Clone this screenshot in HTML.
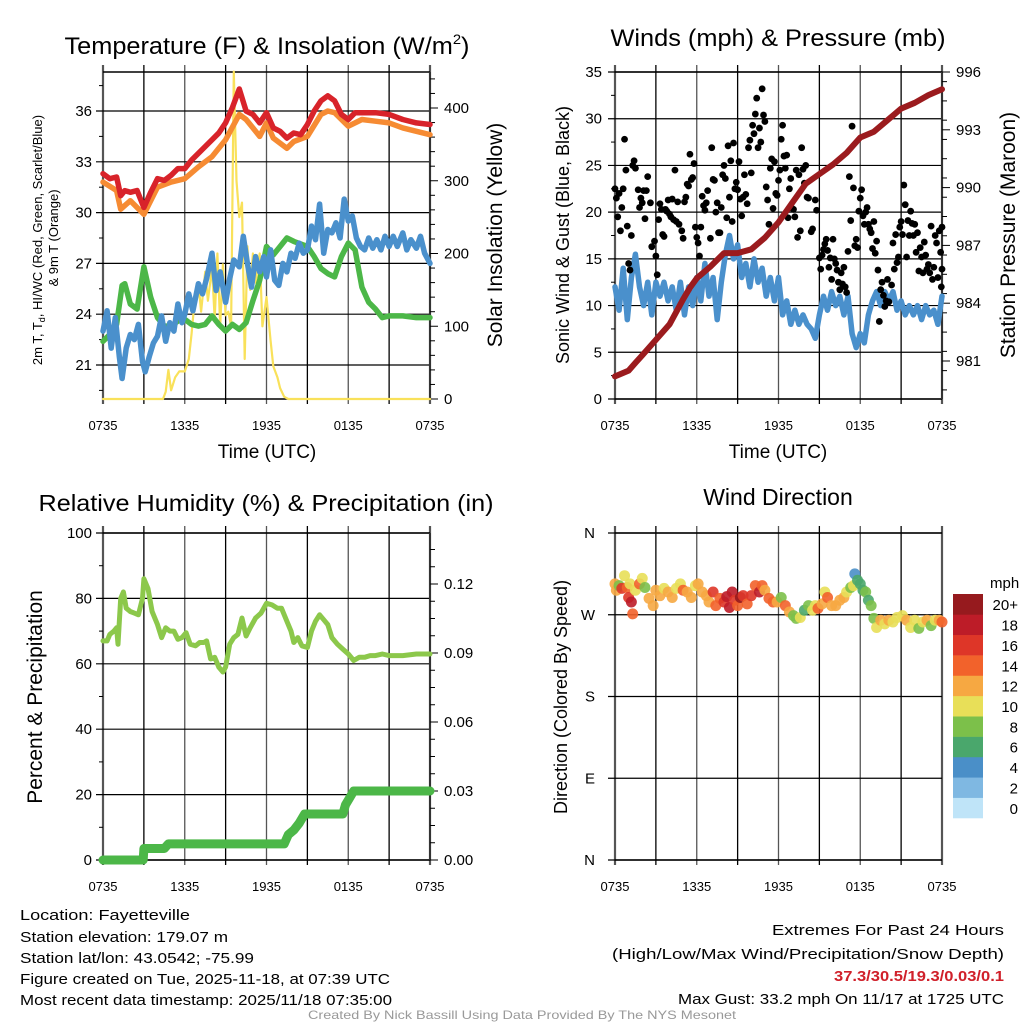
<!DOCTYPE html>
<html><head><meta charset="utf-8"><style>
html,body{margin:0;padding:0;background:#fff;}
svg{display:block;font-family:"Liberation Sans",sans-serif;}
</style></head><body>
<svg id="fig" width="1024" height="1024" viewBox="0 0 1024 1024" xmlns="http://www.w3.org/2000/svg">
<rect width="1024" height="1024" fill="#fff"/>
<g id="layer"></g>
<text x="267" y="54" font-size="24" text-anchor="middle" textLength="405" lengthAdjust="spacingAndGlyphs">Temperature (F) &amp; Insolation (W/m<tspan font-size="14" dy="-10">2</tspan><tspan dy="10">)</tspan></text>
<text x="778" y="46" font-size="24" text-anchor="middle" textLength="335" lengthAdjust="spacingAndGlyphs">Winds (mph) &amp; Pressure (mb)</text>
<text x="266" y="511" font-size="23" text-anchor="middle" textLength="455" lengthAdjust="spacingAndGlyphs">Relative Humidity (%) &amp; Precipitation (in)</text>
<text x="778" y="505" font-size="23" text-anchor="middle">Wind Direction</text>
<text transform="translate(42,240) rotate(-90)" font-size="13" text-anchor="middle">2m T, T<tspan font-size="9" dy="3">d</tspan><tspan dy="-3">, HI/WC (Red, Green, Scarlet/Blue)</tspan></text>
<text transform="translate(58,238) rotate(-90)" font-size="13" text-anchor="middle">&amp; 9m T (Orange)</text>
<text transform="translate(502,235) rotate(-90)" font-size="21" text-anchor="middle">Solar Insolation (Yellow)</text>
<text transform="translate(569,235) rotate(-90)" font-size="18" text-anchor="middle">Sonic Wind &amp; Gust (Blue, Black)</text>
<text transform="translate(1015,235) rotate(-90)" font-size="21" text-anchor="middle">Station Pressure (Maroon)</text>
<text transform="translate(42,697) rotate(-90)" font-size="21" text-anchor="middle">Percent &amp; Precipitation</text>
<text transform="translate(567,697) rotate(-90)" font-size="18" text-anchor="middle">Direction (Colored By Speed)</text>
<text x="267" y="458" font-size="19" text-anchor="middle">Time (UTC)</text>
<text x="778" y="458" font-size="19" text-anchor="middle">Time (UTC)</text>
<g font-size="15">
<text x="20" y="920" textLength="170" lengthAdjust="spacingAndGlyphs">Location: Fayetteville</text>
<text x="20" y="942" textLength="208" lengthAdjust="spacingAndGlyphs">Station elevation: 179.07 m</text>
<text x="20" y="963" textLength="234" lengthAdjust="spacingAndGlyphs">Station lat/lon: 43.0542; -75.99</text>
<text x="20" y="984" textLength="370" lengthAdjust="spacingAndGlyphs">Figure created on Tue, 2025-11-18, at 07:39 UTC</text>
<text x="20" y="1005" textLength="372" lengthAdjust="spacingAndGlyphs">Most recent data timestamp: 2025/11/18 07:35:00</text>
</g>
<g font-size="15" text-anchor="end">
<text x="1004" y="935" textLength="232" lengthAdjust="spacingAndGlyphs">Extremes For Past 24 Hours</text>
<text x="1004" y="959" textLength="392" lengthAdjust="spacingAndGlyphs">(High/Low/Max Wind/Precipitation/Snow Depth)</text>
<text x="1004" y="981" fill="#d0202a" font-weight="bold" textLength="170" lengthAdjust="spacingAndGlyphs">37.3/30.5/19.3/0.03/0.1</text>
<text x="1004" y="1004" textLength="326" lengthAdjust="spacingAndGlyphs">Max Gust: 33.2 mph On 11/17 at 1725 UTC</text>
</g>
<text x="522" y="1019" font-size="12" fill="#999" text-anchor="middle" textLength="428" lengthAdjust="spacingAndGlyphs">Created By Nick Bassill Using Data Provided By The NYS Mesonet</text>
</svg>
<script>
const xTickLabels = ["0735","1335","1935","0135","0735"];
const tempTicks = [21,24,27,30,33,36];
const solarTicks = [0,100,200,300,400];
const windTicks = [0,5,10,15,20,25,30,35];
const presTicks = [981,984,987,990,993,996];
const rhTicks = [0,20,40,60,80,100];
const precipTicks = ["0.00","0.03","0.06","0.09","0.12"];
const dirTicks = ["N","E","S","W","N"];
const speedBins = ["0","2","4","6","8","10","12","14","16","18","20+"];

const redT = [0,32.3,0.5,32.0,1,32.1,1.3,31.0,1.6,31.3,2,31.2,2.5,31.3,3,30.3,3.5,31.2,4,32.0,4.5,31.9,5,32.2,5.5,32.6,6,32.6,6.5,33.1,7,33.5,7.5,33.9,8,34.3,8.5,34.7,9,35.3,9.5,36.2,10,37.3,10.5,36.0,11,35.8,11.5,35.3,12,35.9,12.5,35.0,13,34.8,13.5,34.4,14,34.7,14.5,34.6,15,35.2,15.5,36.0,16,36.6,16.5,36.9,17,36.6,17.5,35.8,18,35.5,18.5,35.9,19,35.9,20,35.9,21,35.8,22,35.5,23,35.3,24,35.2];
const orangeT = [0,31.8,1,31.3,1.3,30.2,2,30.7,3,29.9,4,31.5,5,31.8,6,32.0,7,32.7,8,33.3,9,34.3,10,35.8,10.5,35.5,11,35.0,11.5,34.5,12,35.3,12.5,34.4,13,34.1,13.5,33.8,14,34.2,15,34.5,16,35.8,16.5,36.0,17,35.9,18,35.1,19,35.5,20,35.4,21,35.3,22,35.0,23,34.8,24,34.6];
const greenTd = [0,22.4,0.5,22.8,1,23.4,1.4,25.7,1.6,25.8,2,24.6,2.5,24.3,3,26.8,3.5,25.0,4,23.8,4.5,23.3,5,23.3,5.5,23.6,6,23.7,6.5,23.4,7,23.3,7.5,23.4,8,23.9,8.5,23.4,9,23.0,9.5,23.4,10,23.1,10.5,23.5,11,24.8,11.5,26.0,12,28.0,12.5,27.5,13,28.0,13.5,28.5,14,28.3,15,28.0,15.5,27.4,16,26.7,16.5,26.4,17,26.2,17.5,27.4,18,28.2,18.5,27.8,19,25.6,19.5,24.7,20,24.3,20.5,23.8,21,23.9,22,23.9,23,23.8,24,23.8];
const blueWC = [0,23,0.3,24.2,0.6,22,0.9,23.8,1.2,21.5,1.4,20.2,1.7,22,2,22.8,2.3,22.5,2.6,23.4,2.9,21.2,3.1,20.6,3.4,21.5,3.7,22.3,4,22.7,4.3,23.9,4.6,22.4,4.9,23.5,5.2,23.0,5.5,24.6,5.8,23.5,6,24.0,6.3,25.2,6.6,24.2,7,25.8,7.3,25.2,7.6,26.1,8,27.6,8.3,25.4,8.6,26.5,9,24.7,9.3,26.1,9.6,27.2,10,26.8,10.3,28.6,10.6,27.0,10.9,25.6,11.2,27.4,11.5,26.5,11.8,27.4,12,26.2,12.3,27.8,12.6,26.0,12.9,25.7,13.2,27.0,13.5,26.5,13.8,27.6,14.1,27.3,14.4,28.2,14.7,27.6,15,27.8,15.3,29.2,15.6,28.4,15.9,30.5,16.2,27.6,16.5,29.0,16.8,28.8,17.1,29.4,17.4,28.5,17.7,30.8,18,29.5,18.3,29.8,18.6,28.5,18.9,28.0,19.2,27.8,19.5,28.5,19.8,27.9,20.1,28.4,20.4,27.8,20.7,28.6,21,28.0,21.3,28.6,21.6,28.0,22,28.8,22.3,27.8,22.6,28.4,23,27.9,23.3,28.6,23.6,27.6,24,27.0];
const solar = [0,0,4.4,0,4.6,10,4.8,40,5.0,12,5.3,30,5.6,38,6,38,6.3,55,6.5,90,6.8,150,7,160,7.2,120,7.5,175,7.7,135,8,180,8.2,110,8.4,200,8.6,100,8.8,185,9,115,9.2,120,9.4,100,9.6,450,9.8,300,10,250,10.2,270,10.4,55,10.6,210,10.8,150,11,200,11.2,160,11.5,200,11.7,100,12,140,12.3,80,12.5,45,12.8,30,13,15,13.3,3,13.6,0,24,0];

const windSpd = [0,12,0.3,9.5,0.6,14,0.9,8.5,1.2,13,1.5,15.5,1.8,12,2.1,10,2.4,12.5,2.7,9,3,12.5,3.3,11,3.6,12.5,3.9,10.5,4.2,12,4.5,9.5,4.8,12.5,5.1,9,5.4,12,5.7,10,6,13,6.3,10.5,6.6,14.5,6.9,11,7.2,13,7.5,8.5,7.8,12.5,8.1,15.5,8.4,17.5,8.7,15,9,16.5,9.3,13,9.6,14.5,9.9,12,10.2,15,10.5,12.5,10.8,14,11.1,11,11.4,13,11.7,10.5,12,13,12.3,9,12.6,10.5,12.9,8,13.2,9.5,13.5,8,13.8,9,14.1,8,14.4,7.5,14.7,6.5,15,9,15.3,11,15.6,9.5,15.9,11.5,16.2,10,16.5,11,16.8,9,17.1,11,17.4,7,17.7,5.5,18,7,18.3,6,18.6,9,18.9,10.5,19.2,11.5,19.5,10,19.8,11.5,20.1,10.5,20.4,11.5,20.7,9.5,21,10.5,21.3,9,21.6,10,21.9,9,22.2,10,22.5,8.5,22.8,10,23.1,9,23.4,9.5,23.7,8,24,11];
const pressure = [0,980.2,1,980.5,1.5,980.9,2,981.3,3,982.1,4,982.9,5,984.2,5.5,984.8,6,985.3,7,985.9,8,986.6,9,986.6,10,986.8,11,987.4,12,988.2,13,989.2,14,990.2,15,990.7,16,991.2,17,991.8,18,992.6,19,992.9,20,993.5,21,994.1,22,994.4,23,994.8,24,995.1];
const gustTimes = [0.0,0.1,0.2,0.3,0.4,0.5,0.6,0.7,0.8,0.9,1.0,1.1,1.2,1.3,1.4,1.5,1.7,1.8,1.9,2.0,2.1,2.2,2.3,2.4,2.6,2.7,2.9,3.0,3.1,3.2,3.3,3.4,3.5,3.6,3.7,3.8,3.9,4.0,4.1,4.2,4.3,4.4,4.5,4.6,4.7,4.9,5.0,5.1,5.2,5.3,5.4,5.5,5.6,5.7,5.8,5.9,6.0,6.1,6.2,6.3,6.4,6.5,6.6,6.7,6.8,7.0,7.1,7.2,7.3,7.4,7.5,7.6,7.7,7.8,7.9,8.0,8.1,8.2,8.3,8.4,8.5,8.6,8.7,8.8,8.9,9.0,9.1,9.2,9.3,9.4,9.5,9.6,9.7,9.8,9.9,10.0,10.1,10.2,10.3,10.4,10.5,10.6,10.7,10.8,10.9,11.0,11.1,11.2,11.3,11.4,11.5,11.6,11.7,11.8,11.9,12.0,12.1,12.2,12.3,12.4,12.5,12.6,12.7,12.8,12.9,13.0,13.1,13.2,13.3,13.4,13.5,13.6,13.7,13.8,13.9,14.0,14.1,14.2,14.4,14.5,14.7,14.8,15.0,15.1,15.2,15.3,15.4,15.5,15.6,15.7,15.8,15.9,16.0,16.1,16.2,16.3,16.4,16.5,16.6,16.7,16.8,16.9,17.0,17.1,17.2,17.3,17.4,17.5,17.6,17.7,17.8,17.9,18.0,18.1,18.2,18.3,18.4,18.5,18.6,18.7,18.8,18.9,19.0,19.1,19.2,19.3,19.4,19.5,19.6,19.7,19.8,19.9,20.0,20.1,20.3,20.4,20.5,20.6,20.7,20.8,20.9,21.0,21.1,21.2,21.3,21.4,21.5,21.6,21.7,21.8,21.9,22.0,22.1,22.2,22.3,22.4,22.5,22.6,22.7,22.8,22.9,23.0,23.1,23.2,23.3,23.4,23.5,23.6,23.7,23.8,23.9,24.0,24.0,23.95];
const gustSpd = [22.5,21.5,19.5,22,18,20.5,22.5,27.8,24.5,18.5,14.5,13.8,17.5,25,25.5,24.7,22.4,20.5,21.5,21,22.3,19.3,22.3,23.8,21,16.3,16.9,15.3,13.3,19.2,20.9,20.3,17.6,17.4,20.3,20.1,21.3,19.8,19.5,21.4,19.2,24.5,19,21.1,18.7,18,17.2,21.1,21.6,23,22.8,26.2,23.5,23.7,25.2,18.4,17.3,16.7,15.3,18.4,21.7,20.7,20.2,21,22.3,17.2,26.9,23.5,23.4,20,21,17.8,17.8,20.5,24,25,23.6,19.4,27.1,21.6,25.5,19,27.4,22.5,23.2,22.4,25.4,21.4,19.6,21.6,24,21.9,20.9,26.9,27.7,24.2,29.3,28.4,30.5,32.2,26.9,29,27.5,33.2,30.4,29.7,22.7,21.3,18.7,24.7,25.7,20.4,25.4,22,21.8,23.4,24.5,27.8,29.3,26,24.7,26.1,19.4,22.5,23.6,20.4,20.3,19.5,24.5,17.3,24,18,26.9,24.6,23.1,25,21.6,21.5,17.9,18.2,21.3,20.2,15.1,13.9,15.4,16,16.6,17.1,15.9,14.1,15.1,12.8,17.1,15,14.5,13.8,12.5,11.7,13.5,12.3,14.1,12,11.4,15.8,23.8,19.1,29.2,22.6,16.4,17.1,16.2,20.1,21.5,22.4,19.6,18.7,20,20.5,18.7,18.2,17.8,16.1,19,15.6,16.9,13.8,8.3,11.7,12.5,11.1,9.9,10.5,12.8,10.4,12.2,16.7,13.9,17.6,14.6,15.2,18.4,19,17.6,22.9,20.8,15.2,19.1,17.5,20.1,18.8,17.5,18.7,15.7,17.8,13.7,16.2,15.2,13.5,16.8,15.4,13.9,14.4,13.5,18.5,12.8,14.1,17.5,16.7,13,18,15.7,13.9,18.4,12];

const rh = [0,67,0.3,67,0.5,69,0.8,70,1.0,71,1.1,66,1.3,80,1.5,82,1.7,77,2,76,2.3,75.5,2.6,75,2.9,80,3.0,86,3.3,83,3.6,76,4,72,4.3,68,4.6,71,4.9,70,5.2,70,5.5,67.5,5.8,68,6.1,69.5,6.4,66,6.8,65.5,7.1,66.5,7.4,66.5,7.6,67,7.9,61.5,8.2,62,8.5,59,8.8,57.5,9.0,59,9.3,66,9.6,68,9.9,69,10.2,74,10.5,68.5,10.8,71,11.2,74,11.6,75.5,12,78.5,12.4,78,12.8,77,13.1,77,13.5,73,13.8,70,14.0,66.5,14.3,68,14.6,65.5,15,65,15.3,70,15.6,73,15.9,75,16.2,73.5,16.5,72,16.8,68,17.2,66,17.6,64.5,18,63,18.4,61,18.8,62,19.2,62,19.6,62.5,20,62.5,20.5,63,21,62.5,22,62.5,23,63,24,63];
const precip = [0,0,2.95,0,3.0,0.005,4.5,0.005,4.8,0.007,13.3,0.007,13.6,0.011,14.0,0.013,14.4,0.016,14.8,0.02,17.6,0.02,17.8,0.024,18.1,0.027,18.4,0.03,24,0.03];

const dirTimes = [0.0,0.1,0.3,0.5,0.7,0.9,1.0,1.2,1.3,1.1,1.5,1.8,2.0,2.2,2.5,2.8,3.0,3.3,3.6,3.9,4.2,4.5,4.8,5.0,5.3,5.6,5.9,6.1,6.4,6.7,6.9,7.2,7.4,7.7,8.0,8.2,8.4,8.6,8.8,9.0,9.2,9.4,9.7,10.0,10.3,10.6,10.8,11.0,11.3,11.6,11.9,12.2,12.5,12.8,13.1,13.3,13.6,13.9,14.2,14.5,14.7,14.9,15.2,15.4,15.6,15.9,16.2,16.5,16.8,17.0,17.3,17.5,17.6,17.8,18.0,18.2,18.4,18.6,18.8,19.0,19.2,19.5,19.8,20.1,20.4,20.7,21.1,21.4,21.7,22.0,22.3,22.6,22.9,23.2,23.5,23.8,24.0];
const dirDeg = [304,297,302,299,313,300,289,284,271,304,297,304,310,300,288,280,297,291,299,295,289,299,304,297,295,289,302,304,295,291,284,295,280,288,284,290,278,295,286,280,289,291,282,291,302,295,302,297,288,284,284,289,280,273,269,266,267,275,280,275,280,277,282,295,289,280,280,286,289,295,300,302,315,308,304,297,295,286,280,266,256,264,260,264,262,267,269,264,256,264,255,262,264,258,264,264,262];
const dirSpd = [12,12,8,16,10,14,16,18,14,10,10,14,10,8,12,12,12,12,10,12,12,10,10,14,12,12,10,12,12,12,12,16,14,14,16,18,18,18,16,14,20,16,14,16,14,18,14,12,14,14,12,8,14,12,8,8,10,6,8,10,10,14,12,10,14,12,12,12,12,10,8,10,4,6,6,6,8,6,8,8,10,12,10,12,10,10,10,12,10,10,8,10,12,8,10,12,14];

const NS = "http://www.w3.org/2000/svg";
const layer = document.getElementById('layer');
function mk(tag, attrs, parent) {
  const e = document.createElementNS(NS, tag);
  for (const k in attrs) e.setAttribute(k, attrs[k]);
  (parent || layer).appendChild(e);
  return e;
}
function pairs(arr){const o=[];for(let i=0;i<arr.length;i+=2)o.push([arr[i],arr[i+1]]);return o;}
function lin(d0,d1,r0,r1){return v=>r0+(v-d0)*(r1-r0)/(d1-d0);}

const XL = 103, XR = 430, XL2 = 615, XR2 = 942;
const xA = lin(0,24,XL,XR), xB = lin(0,24,XL2,XR2);

function frame(x0,x1,y0,y1,name) {
  const g = mk('g',{});
  
  
  for (let i=0;i<=8;i++){
    const x = x0 + i*(x1-x0)/8;
    const ln = mk('line',{x1:x,x2:x,y1:y0-7,y2:y1+5,stroke:(i%2===0?'#555':'#000'),'stroke-width':(i===0||i===8)?2.2:1.3},g);
    
    
  }
  mk('line',{x1:x0,x2:x1,y1:y0,y2:y0,stroke:'#000','stroke-width':1.5},g);
  mk('line',{x1:x0,x2:x1,y1:y1,y2:y1,stroke:'#000','stroke-width':1.5},g);
  for (let i=0;i<5;i++){
    const t = mk('text',{x:x0+i*(x1-x0)/4,y:y1+31,'font-size':13,'text-anchor':'middle'},g);
    t.textContent = xTickLabels[i];
    
    
  }
  return g;
}
function hgrid(g,x0,x1,y){
  const l = mk('line',{x1:x0-7,x2:x1,y1:y,y2:y,stroke:'#000','stroke-width':1.2},g);
  
  
}
function leftLabel(g,x,y,txt,size){
  const t = mk('text',{x:x,y:y+5,'font-size':size||15,'text-anchor':'end'},g);
  t.textContent = txt;
  
  
}
function rightTick(g,x,y,txt,major){
  mk('line',{x1:x,x2:x+(major?8:5),y1:y,y2:y,stroke:'#000','stroke-width':1},g);
  if (txt!==null){
    const t = mk('text',{x:x+14,y:y+5,'font-size':15},g);
    t.textContent = txt;
    
    
  }
}
function path(g,pts,xf,yf,color,w,name){
  const d = pts.map((p,i)=>(i?'L':'M')+xf(p[0]).toFixed(1)+','+yf(p[1]).toFixed(1)).join('');
  const p = mk('path',{d:d,fill:'none',stroke:color,'stroke-width':w,'stroke-linejoin':'round','stroke-linecap':'round'},g);
  
  
  return p;
}

(function(){
  const y0=72,y1=399;
  const g = frame(XL,XR,y0,y1,'temperature-panel');
  const yT = lin(21,36,365,111);
  const yS = lin(0,400,399,108);
  tempTicks.forEach(v=>{hgrid(g,XL,XR,yT(v));leftLabel(g,XL-11,yT(v),String(v));});
  for (let v=19.5; v<38.5; v+=1.5){ if (tempTicks.indexOf(v)<0) mk('line',{x1:XL-4,x2:XL,y1:yT(v),y2:yT(v),stroke:'#000'},g);}
  mk('line',{x1:XR,x2:XR,y1:y0,y2:y1,stroke:'#333','stroke-width':2},g);
  for (let v=0; v<=440; v+=20) rightTick(g,XR,yS(v), solarTicks.indexOf(v)>=0?String(v):null, solarTicks.indexOf(v)>=0);
  path(g,pairs(solar),xA,yS,'#f9e15a',2.2,'solar-insolation-line');
  path(g,pairs(greenTd),xA,yT,'#4cb748',5.5,'dewpoint-line');
  path(g,pairs(blueWC),xA,yT,'#4a90cc',5.5,'wind-chill-line');
  path(g,pairs(orangeT),xA,yT,'#f68b33',5.5,'temp-9m-line');
  path(g,pairs(redT),xA,yT,'#d8232a',5.5,'temp-2m-line');
})();

(function(){
  const y0=72,y1=399;
  const g = frame(XL2,XR2,y0,y1,'winds-panel');
  const yW = lin(0,35,399,72);
  const yP = lin(981,996,361,72);
  windTicks.forEach(v=>{hgrid(g,XL2,XR2,yW(v));leftLabel(g,XL2-13,yW(v),String(v));});
  for (let v=2.5; v<35; v+=5) mk('line',{x1:XL2-4,x2:XL2,y1:yW(v),y2:yW(v),stroke:'#000'},g);
  mk('line',{x1:XR2,x2:XR2,y1:y0,y2:y1,stroke:'#333','stroke-width':2},g);
  for (let v=979.5; v<=996; v+=1) rightTick(g,XR2,yP(v), null, false);
  for (let v=981; v<=996; v+=3) rightTick(g,XR2,yP(v),String(v),true);
  path(g,pairs(windSpd),xB,yW,'#4a90cc',5.5,'sonic-wind-line');
  gustTimes.forEach((t,i)=>{
    const c = mk('circle',{cx:xB(t),cy:yW(gustSpd[i]),r:3.4,fill:'#000'},g);
    
    
  });
  path(g,pairs(pressure),xB,yP,'#9b1b1e',6,'station-pressure-line');
})();

(function(){
  const y0=533,y1=860;
  const g = frame(XL,XR,y0,y1,'humidity-panel');
  const yR = lin(0,100,860,533);
  const yPr = lin(0,0.12,860,584);
  rhTicks.forEach(v=>{hgrid(g,XL,XR,yR(v));leftLabel(g,XL-11,yR(v),String(v));});
  for (let v=10; v<100; v+=20) mk('line',{x1:XL-4,x2:XL,y1:yR(v),y2:yR(v),stroke:'#000'},g);
  mk('line',{x1:XR,x2:XR,y1:y0,y2:y1,stroke:'#333','stroke-width':2},g);
  for (let i=0;i<=20;i++){ const v=i*0.0075; if(v>0.142) break; rightTick(g,XR,yPr(v), i%4===0?precipTicks[i/4]:null, i%4===0);}
  path(g,pairs(rh),xA,yR,'#8cc84b',5,'relative-humidity-line');
  path(g,pairs(precip),xA,yPr,'#4cb748',9,'precipitation-line');
})();

(function(){
  const y0=533,y1=860;
  const g = frame(XL2,XR2,y0,y1,'wind-direction-panel');
  const yD = lin(0,360,860,533);
  dirTicks.forEach((lab,i)=>{hgrid(g,XL2,XR2,yD(i*90));leftLabel(g,XL2-20,yD(i*90),lab,15);});
  const colors = ['#bfe4f8','#7fb8e2','#4a8fc8','#4aa76c','#7cc04a','#e8df58','#f6a842','#f2622b','#de3628','#bd1c28','#961a1e'];
  function col(s){ return colors[Math.min(10,Math.floor(s/2))]; }
  dirTimes.forEach((t,i)=>{
    const c = mk('circle',{cx:xB(t),cy:yD(dirDeg[i]),r:5.5,fill:col(dirSpd[i]),'fill-opacity':0.9},g);
    
    
  });
  const cb = mk('g',{},g);
  
  
  const h = (818-594)/11;
  speedBins.forEach((lab,i)=>{
    const yy = 818 - (i+1)*h;
    const r = mk('rect',{x:953,y:yy,width:30,height:h+0.3,fill:colors[i]},cb);
    
    
    const t = mk('text',{x:1018,y:yy+h/2+6,'font-size':15,'text-anchor':'end'},cb);
    t.textContent = lab;
    
    
  });
  const u = mk('text',{x:990,y:588,'font-size':15},cb);
  u.textContent = 'mph';
  
  
})();
</script>
</body></html>
